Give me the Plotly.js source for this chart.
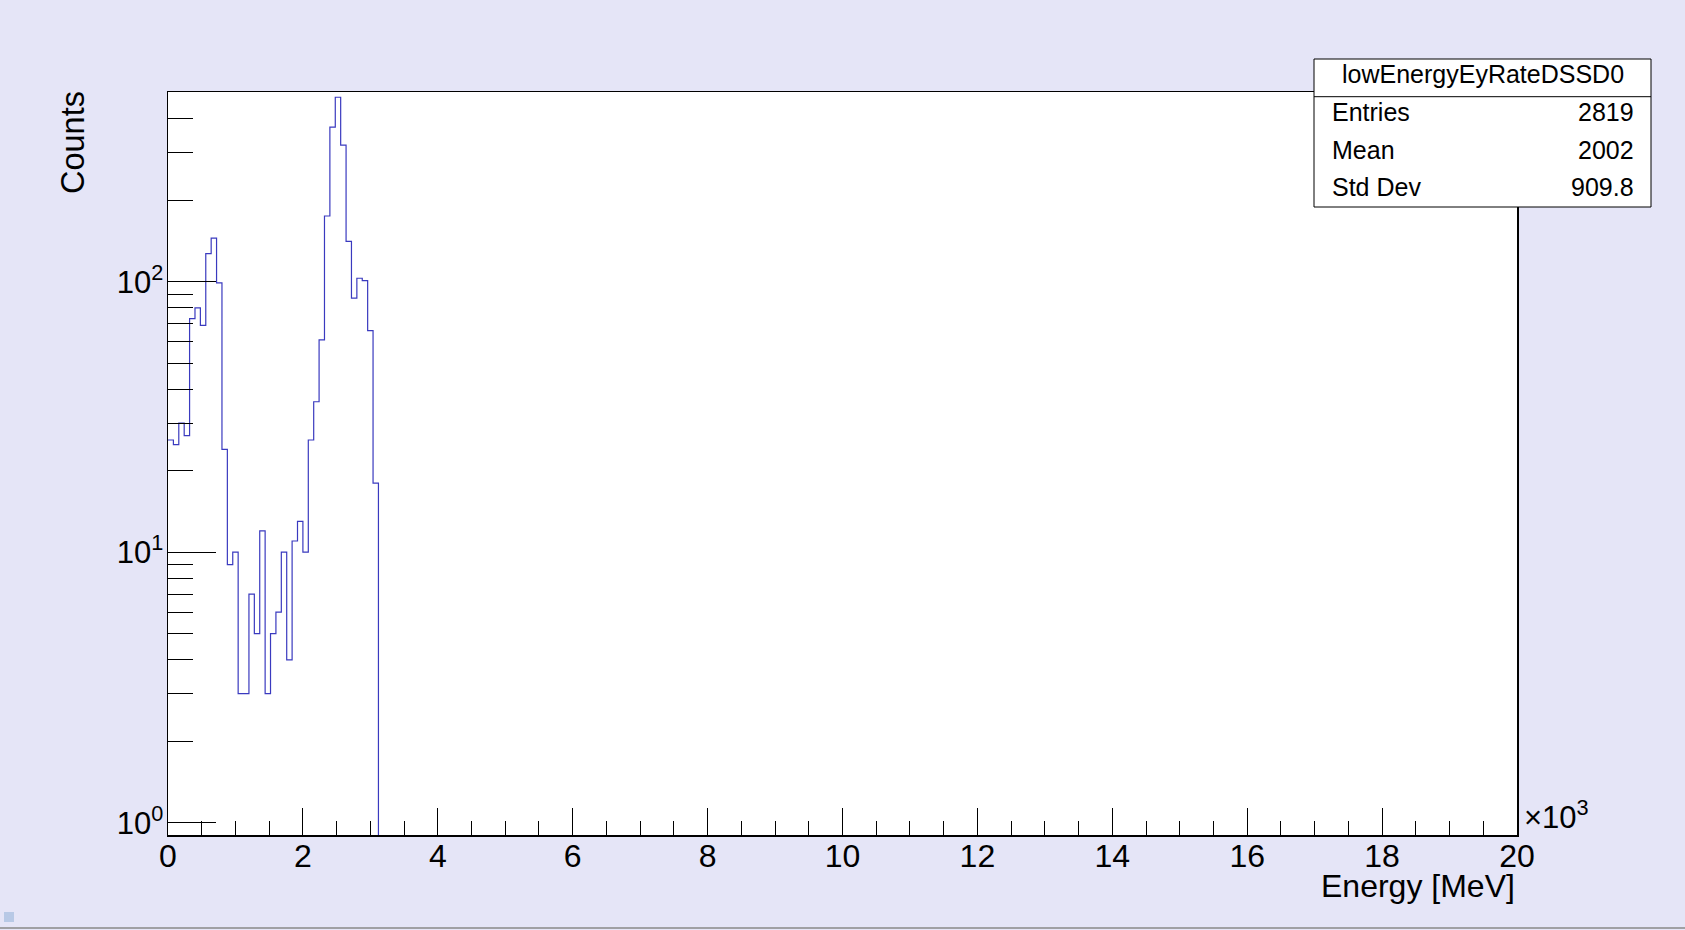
<!DOCTYPE html>
<html>
<head>
<meta charset="utf-8">
<script src="https://cdn.plot.ly/plotly-3.0.1.min.js"></script>
<style>
  html, body { margin: 0; padding: 0; background: #e5e5f7; }
  #plot { width: 1685px; height: 930px; }
</style>
</head>
<body>
<div id="plot"></div>
<script>
// histogram lowEnergyEyRateDSSD0, 80 keV bins starting at 0 (all later bins empty)
var binWidth = 80;
var counts = [26, 25, 30, 27, 73, 80, 69, 127, 145, 99,
              24, 9, 10, 3, 3, 7, 5, 12, 3, 5,
              6, 10, 4, 11, 13, 10, 26, 36, 61, 175,
              373, 481, 320, 141, 87, 103, 101, 66, 18, 0];

var xTickLabels = [0, 2, 4, 6, 8, 10, 12, 14, 16, 18, 20]; // x 10^3
var yTickVals = [1, 10, 100];
var yTickText = ['10<sup>0</sup>', '10<sup>1</sup>', '10<sup>2</sup>'];
var yMinorVals = [2, 3, 4, 5, 6, 7, 8, 9, 20, 30, 40, 50, 60, 70, 80, 90, 200, 300, 400, 500];

var statsTitle = 'lowEnergyEyRateDSSD0';
var statsNames = ['Entries', 'Mean', 'Std Dev'];
var statsValues = ['2819', '2002', '909.8'];

// pixel frame of the ROOT pad, used to place the extra text
var W = 1685, H = 930;
var L = 168, R = 1517, T = 92, B = 835;
function px(x) { return (x - L) / (R - L); }
function py(y) { return (B - y) / (B - T); }

/**
 * STEP LINE
 * left edges plus the closing edge, empty bins drop below the log axis
 */
var stepX = counts.map((c, i) => i * binWidth);
stepX.push(counts.length * binWidth);
var stepY = counts.map((c) => (c > 0 ? c : 0.5));
stepY.push(stepY[stepY.length - 1]);

var data = [
  {
    x: stepX,
    y: stepY,
    type: 'scatter',
    mode: 'lines',
    line: { shape: 'hv', color: '#3a3abf', width: 1.2 },
    hoverinfo: 'skip',
  },
];

var font = { family: 'Liberation Sans, Arial, sans-serif', color: '#000' };

var annotations = [
  {
    text: '\u00d710<sup>3</sup>', x: px(1522), y: py(815),
    xanchor: 'left', yanchor: 'middle', font: Object.assign({ size: 31 }, font),
  },
  {
    text: 'Energy [MeV]', x: px(1517), y: py(886),
    xanchor: 'right', yanchor: 'middle', font: Object.assign({ size: 32 }, font),
  },
  {
    text: 'Counts', x: px(73), y: py(143), textangle: -90,
    xanchor: 'center', yanchor: 'middle', font: Object.assign({ size: 32.5 }, font),
  },
  {
    text: statsTitle, x: px(1483), y: py(74),
    xanchor: 'center', yanchor: 'middle', font: Object.assign({ size: 25 }, font),
  },
];
statsNames.forEach((name, i) => {
  var yc = py(112 + i * 37.5);
  annotations.push({
    text: name, x: px(1330), y: yc, xanchor: 'left', yanchor: 'middle',
    font: Object.assign({ size: 25 }, font),
  });
  annotations.push({
    text: statsValues[i], x: px(1636), y: yc, xanchor: 'right', yanchor: 'middle',
    font: Object.assign({ size: 25 }, font),
  });
});
annotations.forEach((a) => { a.xref = 'paper'; a.yref = 'paper'; a.showarrow = false; });

var shapes = [
  // stats box
  { type: 'rect', x0: px(1314), x1: px(1651), y0: py(59), y1: py(207),
    fillcolor: '#fff', line: { color: '#000', width: 1 } },
  { type: 'line', x0: px(1314), x1: px(1651), y0: py(96.7), y1: py(96.7),
    line: { color: '#000', width: 1 } },
  // canvas bottom edge and the little corner marker
  { type: 'line', x0: px(0), x1: px(W), y0: py(928), y1: py(928),
    line: { color: '#888', width: 1.5 } },
  { type: 'rect', x0: px(4), x1: px(14), y0: py(912), y1: py(922),
    fillcolor: '#b8c9e6', line: { width: 0 } },
];
shapes.forEach((s) => { s.xref = 'paper'; s.yref = 'paper'; s.layer = 'above'; });

var layout = {
  width: W,
  height: H,
  margin: { l: L, r: W - R, t: T, b: H - B, pad: 0 },
  paper_bgcolor: '#e5e5f7',
  plot_bgcolor: '#ffffff',
  showlegend: false,
  font: font,
  xaxis: {
    range: [0, 20000],
    tickmode: 'array',
    tickvals: xTickLabels.map((v) => v * 1000),
    ticktext: xTickLabels.map(String),
    ticks: 'inside',
    ticklen: 27,
    tickcolor: '#000',
    tickwidth: 1,
    minor: { dtick: 500, ticks: 'inside', ticklen: 14, tickcolor: '#000', tickwidth: 1 },
    showgrid: false,
    zeroline: false,
    showline: true,
    linecolor: '#000',
    linewidth: 1.5,
    mirror: true,
    tickfont: { size: 32 },
    ticklabelstandoff: -8,
  },
  yaxis: {
    type: 'log',
    range: [-0.0455, 2.7015],
    tickmode: 'array',
    tickvals: yTickVals,
    ticktext: yTickText,
    ticks: 'inside',
    ticklen: 48,
    tickcolor: '#000',
    tickwidth: 1,
    minor: { tickmode: 'array', tickvals: yMinorVals, ticks: 'inside', ticklen: 25,
             tickcolor: '#000', tickwidth: 1 },
    showgrid: false,
    zeroline: false,
    showline: true,
    linecolor: '#000',
    linewidth: 1.5,
    mirror: true,
    tickfont: { size: 31 },
    ticklabelstandoff: -3,
  },
  annotations: annotations,
  shapes: shapes,
};

Plotly.newPlot('plot', data, layout, { staticPlot: true });
</script>
</body>
</html>
